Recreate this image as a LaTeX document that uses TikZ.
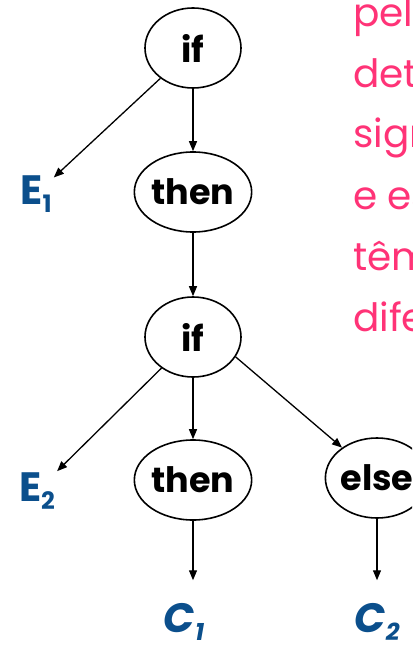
\documentclass[tikz,border=0pt]{standalone}
\usepackage{fontspec}
\setmainfont{Poppins}
\usetikzlibrary{arrows.meta,shapes.geometric}
\definecolor{lblblue}{HTML}{0B4F8C}
\definecolor{notepink}{HTML}{FF3377}
\newcommand\lblsub[1]{\raisebox{-8pt}{\fontsize{24}{24}\selectfont #1}}
\begin{document}
\begin{tikzpicture}[x=1pt,y=-1pt,
  treenode/.style={draw,ellipse,line width=1.6pt,minimum width=96pt,minimum height=80pt,inner sep=0pt,font=\fontsize{35}{35}\selectfont\bfseries},
  arr/.style={line width=1.3pt,-{Triangle[length=10pt,width=8pt]}},
  lbl/.style={text=lblblue,inner sep=2pt,font=\fontsize{41}{41}\selectfont\bfseries},
  lbli/.style={lbl,font=\fontsize{41}{41}\selectfont\bfseries\itshape},
  note/.style={text=notepink,anchor=base west,inner sep=0pt,font=\fontsize{39}{39}\selectfont}]
\useasboundingbox (0,0) rectangle (412,647);
\clip (0,0) rectangle (412,647);
\node[treenode] (if1) at (193,48) {if};
\node[treenode] (then1) at (193,192) {then};
\node[treenode] (if2) at (193,337) {if};
\node[treenode] (then2) at (193,480) {then};
\node[treenode] (else) at (377,478) {else};
\node[lbl] (E1) at (36,194) {E\lblsub{1}};
\node[lbl] (E2) at (37,491) {E\lblsub{2}};
\node[lbli] (C1) at (184,622) {C\lblsub{1}};
\node[lbli] (C2) at (377,622) {C\lblsub{2}};
\draw[arr] (if1) -- (E1);
\draw[arr] (if1) -- (then1);
\draw[arr] (then1) -- (if2);
\draw[arr] (if2) -- (E2);
\draw[arr] (if2) -- (then2);
\draw[arr] (if2.-25) -- (else.139);
\draw[arr,shorten >=21pt] (then2) -- (then2 |- C1.north);
\draw[arr,shorten >=21pt] (else) -- (else |- C2.north);
\node[note] (n1) at (353,27) {pelo};
\node[note] (n2) at (353,88) {determinam};
\node[note] (n3) at (353,148) {significados};
\node[note] (n4) at (353,209) {e essas};
\node[note] (n5) at (353,270) {têm};
\node[note] (n6) at (353,331) {diferentes};
\end{tikzpicture}
\end{document}
